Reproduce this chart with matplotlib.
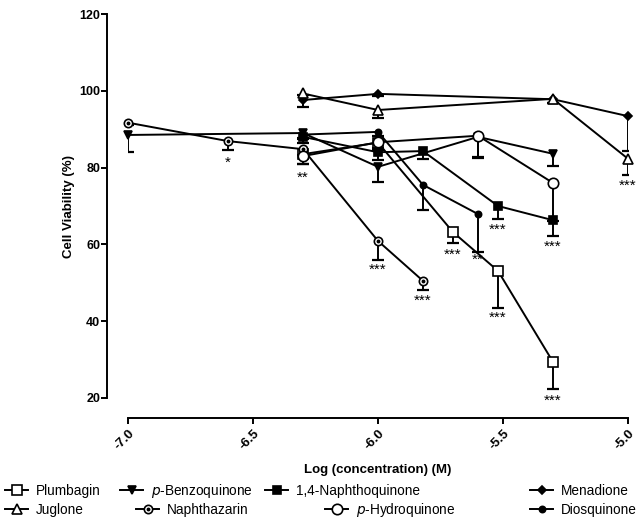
import numpy as np
import matplotlib
matplotlib.use("Agg")
import matplotlib.pyplot as plt
from matplotlib.lines import Line2D
from matplotlib.legend_handler import HandlerTuple

plt.rcParams['font.family'] = ['Liberation Sans', 'DejaVu Sans']

# Data: log concentration (M), mean viability (%) and lower error (%)
plumbagin_x = [-6.3, -6.0, -5.7, -5.52, -5.3]
plumbagin_y = [83.5, 86.5, 63.2, 53.1, 29.4]
plumbagin_e = [2.5, 2.0, 2.8, 9.7, 7.1]

benzo_x = [-7.0, -6.3, -6.0, -5.6, -5.3]
benzo_y = [88.5, 89.0, 80.2, 88.0, 83.6]
benzo_e = [4.5, 1.5, 4.0, 5.5, 3.2]

nq_x = [-6.3, -6.0, -5.82, -5.52, -5.3]
nq_y = [88.0, 84.0, 84.3, 70.0, 66.3]
nq_e = [1.5, 2.0, 2.0, 3.4, 4.0]

menadione_x = [-6.3, -6.0, -5.3, -5.0]
menadione_y = [97.6, 99.2, 97.8, 93.4]
menadione_e = [1.7, 0.5, 1.0, 9.0]

juglone_x = [-6.3, -6.0, -5.3, -5.0]
juglone_y = [99.3, 95.0, 97.9, 82.3]
juglone_e = [0.5, 2.0, 1.0, 4.2]

naphthazarin_x = [-7.0, -6.6, -6.3, -6.0, -5.82]
naphthazarin_y = [91.7, 86.9, 84.8, 60.9, 50.5]
naphthazarin_e = [0.5, 2.3, 1.5, 5.0, 2.3]

hydro_x = [-6.3, -6.0, -5.6, -5.3]
hydro_y = [83.0, 86.6, 88.3, 76.0]
hydro_e = [2.0, 1.5, 5.5, 10.0]

dios_x = [-6.3, -6.0, -5.82, -5.6]
dios_y = [88.6, 89.3, 75.5, 67.9]
dios_e = [1.0, 1.0, 6.5, 10.0]

star_x = [-6.6, -6.3, -6.0, -5.82, -5.7, -5.6, -5.52, -5.52, -5.3, -5.3, -5.0]
star_y = [82.6, 78.6, 54.6, 46.6, 58.5, 57.2, 42.1, 65.0, 60.6, 20.5, 76.5]
star_t = ['*', '**', '***', '***', '***', '**', '***', '***', '***', '***', '***']

xticks = [-7.0, -6.5, -6.0, -5.5, -5.0]
yticks = [20, 40, 60, 80, 100, 120]

fig = plt.figure(figsize=(6.36, 5.22), dpi=100)
ax = fig.add_axes([128 / 636, 1 - 398 / 522, 500 / 636, 384 / 522])

# offset axes first (moving a spine resets the ticks)
for s in ['top', 'right']:
    ax.spines[s].set_visible(False)
ax.spines['left'].set_position(('outward', 15))
ax.spines['bottom'].set_position(('outward', 14.4))
ax.spines['left'].set_linewidth(1.4)
ax.spines['bottom'].set_linewidth(1.4)


def series(x, y, e, marker, ms, filled, dot=False):
    x = np.array(x)
    y = np.array(y)
    e = np.array(e)
    ax.plot(x, y, color='black', lw=1.4, zorder=2, clip_on=False)
    ax.vlines(x, y - e, y, color='black', lw=1.4, zorder=2)
    ax.plot(x, y - e, ls='none', marker='_', ms=8, mew=1.6, color='black', zorder=2)
    fc = 'black' if filled else 'white'
    h = ax.plot(x, y, ls='none', marker=marker, ms=ms, mfc=fc, mec='black',
                mew=1.2, zorder=3, clip_on=False)[0]
    if dot:
        d = ax.plot(x, y, ls='none', marker='o', ms=1.8, color='black',
                    zorder=4, clip_on=False)[0]
        return h, d
    return h


h_plum = series(plumbagin_x, plumbagin_y, plumbagin_e, 's', 6.5, False)
h_benz = series(benzo_x, benzo_y, benzo_e, 'v', 5.5, True)
h_nq = series(nq_x, nq_y, nq_e, 's', 5.5, True)
h_men = series(menadione_x, menadione_y, menadione_e, 'D', 4.5, True)
h_jug = series(juglone_x, juglone_y, juglone_e, '^', 6.5, False)
h_nap = series(naphthazarin_x, naphthazarin_y, naphthazarin_e, 'o', 6, False, dot=True)
h_hyd = series(hydro_x, hydro_y, hydro_e, 'o', 7.5, False)
h_dio = series(dios_x, dios_y, dios_e, 'o', 4.5, True)

for x, y, t in zip(star_x, star_y, star_t):
    ax.annotate(t, (x, y), xytext=(0, -6.5), textcoords='offset points',
                ha='center', va='baseline', fontsize=11, color='black')

ax.set_xlim(-7.0, -5.0)
ax.set_ylim(20, 120)
ax.set_xticks(xticks)
ax.set_xticklabels(['%.1f' % v for v in xticks], rotation=45, ha='right',
                   rotation_mode='anchor', fontsize=9.5, fontweight='bold')
ax.set_yticks(yticks)
ax.set_yticklabels([str(v) for v in yticks], fontsize=9, fontweight='bold')
ax.tick_params(axis='y', direction='out', length=4, width=1.4, pad=1)
ax.tick_params(axis='x', direction='out', length=4, width=1.4, pad=3)

ax.set_ylabel('Cell Viability (%)', fontsize=9.5, fontweight='bold', labelpad=3)
ax.set_xlabel('Log (concentration) (M)', fontsize=9.5, fontweight='bold', labelpad=8)

# legend, two rows placed like the original
entries = [
    (h_plum, 'Plumbagin', 5, 491), (h_benz, '$p$-Benzoquinone', 120, 491),
    (h_nq, '1,4-Naphthoquinone', 265, 491), (h_men, 'Menadione', 530, 491),
    (h_jug, 'Juglone', 5, 510), (h_nap, 'Naphthazarin', 136, 510),
    (h_hyd, '$p$-Hydroquinone', 325, 510), (h_dio, 'Diosquinone', 530, 510),
]
for h, lab, px, py in entries:
    if isinstance(h, tuple):
        proxy = (Line2D([], [], color='black', lw=1.4, marker=h[0].get_marker(),
                        ms=h[0].get_markersize(), mfc='white', mec='black', mew=1.2),
                 Line2D([], [], ls='none', marker='o', ms=1.8, color='black'))
    else:
        proxy = Line2D([], [], color='black', lw=1.4, marker=h.get_marker(),
                       ms=h.get_markersize(), mfc=h.get_markerfacecolor(),
                       mec='black', mew=1.2)
    fig.legend([proxy], [lab], loc='center left',
               bbox_to_anchor=(px / 636, 1 - py / 522), frameon=False,
               fontsize=9.8, handlelength=1.7, handletextpad=0.6,
               borderpad=0, borderaxespad=0,
               handler_map={tuple: HandlerTuple(ndivide=1, pad=0)})

fig.savefig('out.png', dpi=100)
